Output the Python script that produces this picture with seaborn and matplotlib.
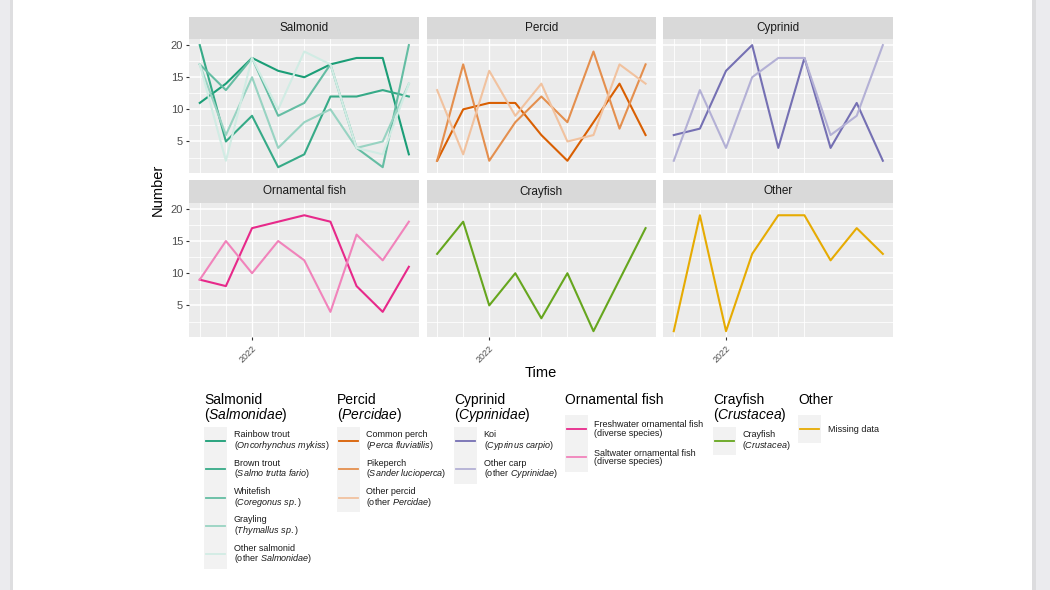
import pandas as pd
import matplotlib
matplotlib.use("Agg")
import matplotlib.pyplot as plt
import matplotlib.colors as mcolors
from matplotlib.lines import Line2D
from matplotlib.patches import Rectangle
import seaborn as sns

# Data
time_points = [1, 2, 3, 4, 5, 6, 7, 8, 9]
year_tick = 3
year_label = "2022"

rainbow_trout = [11, 14, 18, 16, 15, 17, 18, 18, 3]
brown_trout = [20, 5, 9, 1, 3, 12, 12, 13, 12]
whitefish = [17, 13, 18, 9, 11, 17, 4, 1, 20]
grayling = [17, 6, 15, 4, 8, 10, 4, 5, 14]
other_salmonid = [17, 2, 18, 10, 19, 17, 4, 3, 14]

common_perch = [2, 10, 11, 11, 6, 2, 8, 14, 6]
pikeperch = [2, 17, 2, 8, 12, 8, 19, 7, 17]
other_percid = [13, 3, 16, 9, 14, 5, 6, 17, 14]

koi = [6, 7, 16, 20, 4, 18, 4, 11, 2]
other_carp = [2, 13, 4, 15, 18, 18, 6, 9, 20]

freshwater_orn = [9, 8, 17, 18, 19, 18, 8, 4, 11]
saltwater_orn = [9, 15, 10, 15, 12, 4, 16, 12, 18]

crayfish = [13, 18, 5, 10, 3, 10, 1, 9, 17]
missing_data = [1, 19, 1, 13, 19, 19, 12, 17, 13]

panels = ["Salmonid", "Percid", "Cyprinid", "Ornamental fish", "Crayfish", "Other"]
panel_titles = ["Salmonid\n($\\mathit{Salmonidae}$)", "Percid\n($\\mathit{Percidae}$)",
                "Cyprinid\n($\\mathit{Cyprinidae}$)", "Ornamental fish",
                "Crayfish\n($\\mathit{Crustacea}$)", "Other"]
species = {
    "Salmonid": ["Rainbow trout", "Brown trout", "Whitefish", "Grayling", "Other salmonid"],
    "Percid": ["Common perch", "Pikeperch", "Other percid"],
    "Cyprinid": ["Koi", "Other carp"],
    "Ornamental fish": ["Freshwater ornamental fish", "Saltwater ornamental fish"],
    "Crayfish": ["Crayfish"],
    "Other": ["Missing data"],
}
values = {
    "Rainbow trout": rainbow_trout, "Brown trout": brown_trout, "Whitefish": whitefish,
    "Grayling": grayling, "Other salmonid": other_salmonid,
    "Common perch": common_perch, "Pikeperch": pikeperch, "Other percid": other_percid,
    "Koi": koi, "Other carp": other_carp,
    "Freshwater ornamental fish": freshwater_orn, "Saltwater ornamental fish": saltwater_orn,
    "Crayfish": crayfish, "Missing data": missing_data,
}
legend_labels = {
    "Rainbow trout": "Rainbow trout\n($\\mathit{Oncorhynchus\\ mykiss}$)",
    "Brown trout": "Brown trout\n($\\mathit{Salmo\\ trutta\\ fario}$)",
    "Whitefish": "Whitefish\n($\\mathit{Coregonus\\ sp.}$)",
    "Grayling": "Grayling\n($\\mathit{Thymallus\\ sp.}$)",
    "Other salmonid": "Other salmonid\n(other $\\mathit{Salmonidae}$)",
    "Common perch": "Common perch\n($\\mathit{Perca\\ fluviatilis}$)",
    "Pikeperch": "Pikeperch\n($\\mathit{Sander\\ lucioperca}$)",
    "Other percid": "Other percid\n(other $\\mathit{Percidae}$)",
    "Koi": "Koi\n($\\mathit{Cyprinus\\ carpio}$)",
    "Other carp": "Other carp\n(other $\\mathit{Cyprinidae}$)",
    "Freshwater ornamental fish": "Freshwater ornamental fish\n(diverse species)",
    "Saltwater ornamental fish": "Saltwater ornamental fish\n(diverse species)",
    "Crayfish": "Crayfish\n($\\mathit{Crustacea}$)",
    "Missing data": "Missing data",
}

base_colors = ["#1B9E77", "#D95F02", "#7570B3", "#E7298A", "#66A61E", "#E6AB02"]
tints = {
    "Salmonid": [0.0, 0.12, 0.32, 0.55, 0.8],
    "Percid": [0.0, 0.3, 0.62],
    "Cyprinid": [0.0, 0.45],
    "Ornamental fish": [0.0, 0.42],
    "Crayfish": [0.0],
    "Other": [0.0],
}


def tint(color, f):
    r, g, b = mcolors.to_rgb(color)
    return (r + (1 - r) * f, g + (1 - g) * f, b + (1 - b) * f)


# long table for seaborn
rows = []
for p in panels:
    for s in species[p]:
        for t, v in zip(time_points, values[s]):
            rows.append({"group": p, "species": s, "time": t, "number": v})
df = pd.DataFrame(rows)

plt.rcParams["font.family"] = ["Liberation Sans", "DejaVu Sans"]
plt.rcParams["mathtext.fontset"] = "custom"
plt.rcParams["mathtext.rm"] = "Liberation Sans"
plt.rcParams["mathtext.it"] = "Liberation Sans:italic"

W, H = 1050, 590
fig = plt.figure(figsize=(W / 100, H / 100), dpi=100)
fig.patch.set_facecolor("#EBEBEE")
# page background (white sheet with grey edges)
for x0, w, col in [(13, 1032 - 13, "white"), (10, 3, "#DEDEE0"), (1032, 4, "#DCDCDE")]:
    fig.patches.append(Rectangle((x0 / W, 0), w / W, 1, transform=fig.transFigure,
                                 facecolor=col, edgecolor="none", zorder=-10))

col_x = [(189.3, 419.3), (426.7, 656.0), (663.3, 893.3)]
row_y = [(39.0, 173.3), (202.7, 337.3)]
strip_h = 22.4

for i, p in enumerate(panels):
    r, c = divmod(i, 3)
    x0, x1 = col_x[c]
    y0, y1 = row_y[r]
    ax = fig.add_axes([x0 / W, 1 - y1 / H, (x1 - x0) / W, (y1 - y0) / H])
    ax.set_facecolor("#EBEBEB")
    base = base_colors[i]
    pal = [tint(base, f) for f in tints[p]]
    sub = df[df["group"] == p]
    sns.lineplot(data=sub, x="time", y="number", hue="species", hue_order=species[p],
                 palette=pal, legend=False, errorbar=None, linewidth=1.5, ax=ax, zorder=3)
    ax.set_xlim(0.6, 9.4)
    ax.set_ylim(0.05, 20.95)
    for yv in [2.5, 7.5, 12.5, 17.5]:
        ax.axhline(yv, color="white", lw=0.55, zorder=1)
    for yv in [5, 10, 15, 20]:
        ax.axhline(yv, color="white", lw=1.1, zorder=1)
    for xv in time_points[:6]:
        ax.axvline(xv, color="white", lw=1.0 if xv == year_tick else 0.6, zorder=1)
    for s in ax.spines.values():
        s.set_visible(False)
    ax.set_xlabel("")
    ax.set_ylabel("")
    ax.set_yticks([5, 10, 15, 20])
    if c == 0:
        ax.tick_params(axis="y", length=2.5, width=0.8, color="#333333",
                       labelsize=8, labelcolor="#4D4D4D", pad=2)
    else:
        ax.tick_params(axis="y", length=0, labelleft=False)
    ax.set_xticks([year_tick])
    if r == 1:
        ax.set_xticklabels([year_label])
        ax.tick_params(axis="x", length=2.5, width=0.8, color="#333333",
                       labelsize=6.5, labelcolor="#4D4D4D", pad=2)
        for lab in ax.get_xticklabels():
            lab.set_rotation(45)
            lab.set_ha("right")
            lab.set_va("top")
            lab.set_rotation_mode("anchor")
    else:
        ax.set_xticklabels([])
        ax.tick_params(axis="x", length=0)
    # facet strip
    sh = strip_h / (y1 - y0)
    ax.add_patch(Rectangle((0, 1), 1, sh, transform=ax.transAxes, facecolor="#D9D9D9",
                           edgecolor="none", clip_on=False))
    ax.text(0.5, 1 + sh / 2, p, transform=ax.transAxes, ha="center", va="center",
            fontsize=8.5, color="#1A1A1A")

fig.text(158 / W, 1 - 190 / H, "Number", rotation=90, ha="center", va="center", fontsize=10.5)
fig.text(541 / W, 1 - 373 / H, "Time", ha="center", va="center", fontsize=10.5)

# legend, one block per group
legend_x = [204, 337, 454, 565, 713, 798]
key_w, key_h = 22.5, 28.3
for i, p in enumerate(panels):
    gx = legend_x[i]
    title = panel_titles[i]
    fig.text(gx / W, 1 - 393 / H, title, ha="left", va="top", fontsize=10, linespacing=0.95)
    top = 427 if "\n" in title else 415
    n = len(species[p])
    fig.patches.append(Rectangle((gx / W, 1 - (top + n * key_h) / H), key_w / W, n * key_h / H,
                                 transform=fig.transFigure, facecolor="#F2F2F2",
                                 edgecolor="none"))
    pal = [tint(base_colors[i], f) for f in tints[p]]
    for k, s in enumerate(species[p]):
        cy = 1 - (top + (k + 0.5) * key_h) / H
        fig.lines.append(Line2D([(gx + 2) / W, (gx + key_w - 2) / W], [cy, cy],
                                transform=fig.transFigure, color=pal[k], lw=1.3))
        fig.text((gx + key_w + 7) / W, cy, legend_labels[s], ha="left", va="center",
                 fontsize=6.5, color="#1A1A1A", linespacing=0.95)

fig.savefig("out.png", dpi=100, facecolor=fig.get_facecolor())
